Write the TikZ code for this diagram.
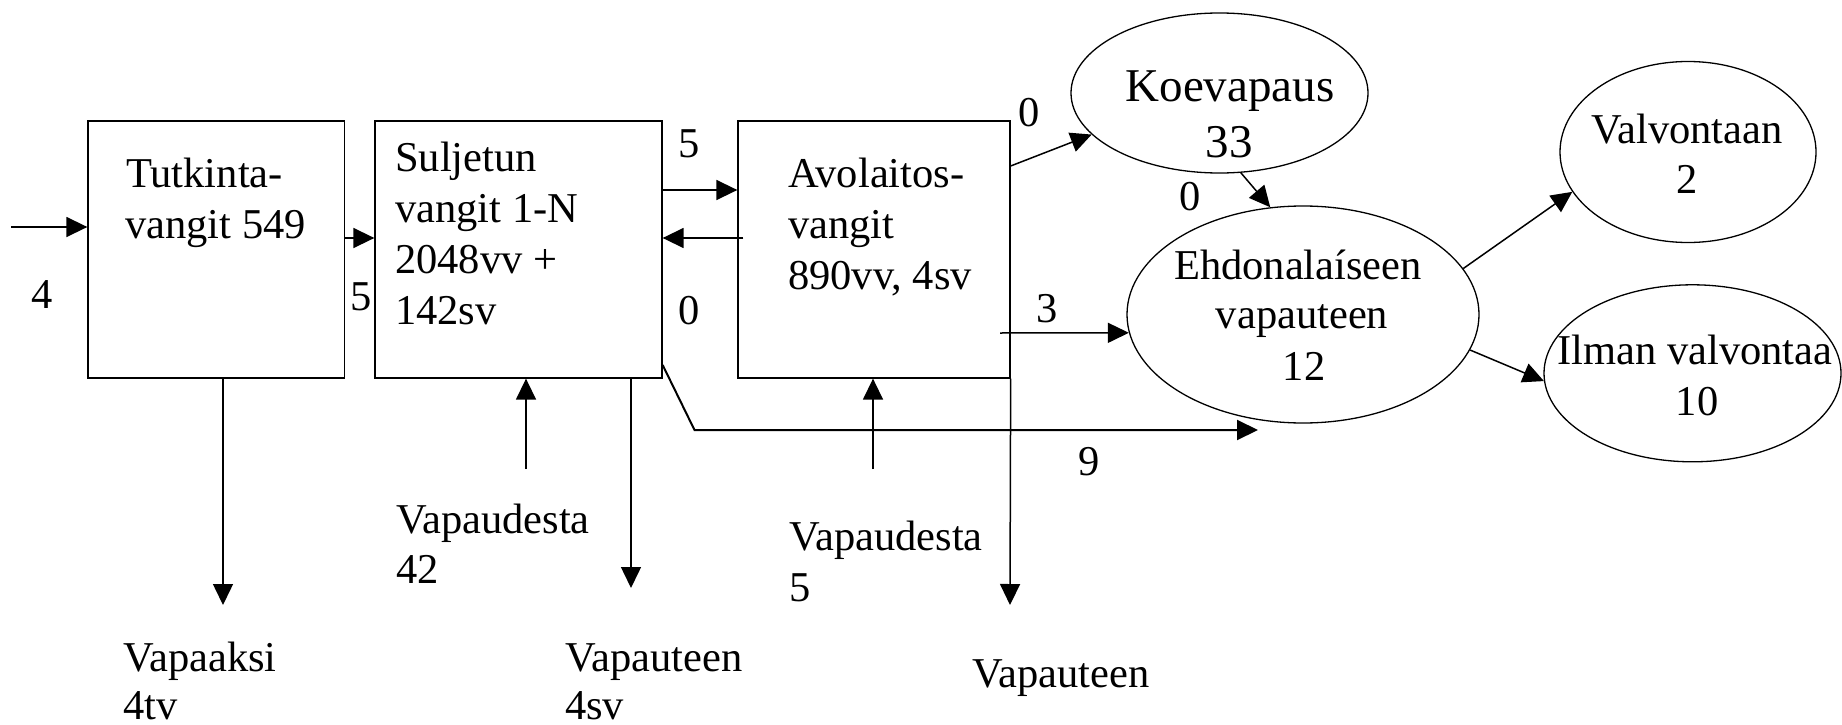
\documentclass[tikz,border=0pt]{standalone}
\usepackage{fontspec}
\setmainfont{Liberation Serif}
\usetikzlibrary{shapes.geometric,arrows.meta,calc}
\newcommand\fs{\fontsize{42.5}{50}\selectfont}
\newcommand\fsk{\fontsize{47}{55}\selectfont}
\tikzset{
  boxnode/.style={draw, line width=1.3pt, inner sep=0pt, minimum height=257pt},
  oval/.style={draw, ellipse, line width=1.3pt, inner sep=0pt},
  txt/.style={font=\fs, inner sep=0pt, anchor=base west},
  ctxt/.style={font=\fs, inner sep=0pt, anchor=base},
  arr/.style={-{Triangle[length=21pt,width=20pt]}, line width=1.5pt},
}
\begin{document}
\begin{tikzpicture}[x=1pt,y=-1pt]
\useasboundingbox (0,0) rectangle (1842,725);
% boxes
\node[boxnode, minimum width=256.6pt] (b1) at (216.3,249.5) {};
\node[boxnode, minimum width=287pt] (b2) at (518.5,249.5) {};
\node[boxnode, minimum width=272pt] (b3) at (874,249.5) {};
% ellipses
\node[oval, minimum width=297pt, minimum height=160pt] (k) at (1219.5,93) {};
\node[oval, minimum width=352pt, minimum height=217pt] (e) at (1303,314.5) {};
\node[oval, minimum width=256pt, minimum height=181pt] (v) at (1688,152) {};
\node[oval, minimum width=297pt, minimum height=177pt] (i) at (1692.5,373.3) {};
% box texts
\node[txt] (t1a) at (126,187) {Tutkinta-};
\node[txt] (t1b) at (125,238) {vangit 549};
\node[txt] (t2a) at (395,171) {Suljetun};
\node[txt] (t2b) at (395,222) {vangit 1-N};
\node[txt] (t2c) at (395,273) {2048vv +};
\node[txt] (t2d) at (395,324) {142sv};
\node[txt] (t3a) at (788,187) {Avolaitos-};
\node[txt] (t3b) at (788,238) {vangit};
\node[txt] (t3c) at (788,289) {890vv, 4sv};
% ellipse texts
\node[ctxt, font=\fsk] (tka) at (1230,102) {Koevapaus};
\node[ctxt, font=\fsk] (tkb) at (1229,157) {33};
\node[ctxt] (tea) at (1298,279) {Ehdonalaíseen};
\node[ctxt] (teb) at (1302,328) {vapauteen};
\node[ctxt] (tec) at (1304,380) {12};
\node[ctxt] (tva) at (1687,143) {Valvontaan};
\node[ctxt] (tvb) at (1687,193) {2};
\node[ctxt] (tia) at (1695,364) {Ilman valvontaa};
\node[ctxt] (tib) at (1697,415) {10};
% numeric labels
\node[txt] (n4) at (31,308) {4};
\node[txt] (n5a) at (350,310) {5};
\node[txt] (n5b) at (678,157) {5};
\node[txt] (n0a) at (678,324) {0};
\node[txt] (n0b) at (1018,126) {0};
\node[txt] (n0c) at (1179,210) {0};
\node[txt] (n3) at (1036,322) {3};
\node[txt] (n9) at (1078,475) {9};
% bottom labels
\node[txt] (l1a) at (396,533) {Vapaudesta};
\node[txt] (l1b) at (396,583) {42};
\node[txt] (l2a) at (789,550) {Vapaudesta};
\node[txt] (l2b) at (789,601) {5};
\node[txt] (l3a) at (123,671) {Vapaaksi};
\node[txt] (l3b) at (123,719) {4tv};
\node[txt] (l4a) at (565,671) {Vapauteen};
\node[txt] (l4b) at (565,719) {4sv};
\node[txt] (l5a) at (972,687) {Vapauteen};
% free ends
\coordinate (cin) at (11,227);
\coordinate (c9) at (1258,430);
\coordinate (c9b) at (694.5,430);
\coordinate (d1) at (223,605);
\coordinate (u2) at (526,469);
\coordinate (d2) at (631,588);
\coordinate (u3) at (873,469);
\coordinate (d3) at (1010,605);
% connectors
\draw[arr] (cin) -- (b1.west |- cin);
\draw[arr] (b1.east |- 0,238) -- (b2.west |- 0,238);
\draw[arr] (b2.east |- 0,190) -- (b3.west |- 0,190);
\draw[arr] ($(b3.west |- 0,238)+(6,0)$) -- (b2.east |- 0,238);
\draw[arr] (b3.east |- 0,166) -- (k.198);
\draw[arr] (k.285) -- (e.107);
\draw[arr] ($(b3.east |- 0,333)+(-10.5,0)$) -- (e.186);
\draw[arr, line width=2pt] (b2.east |- 0,365) -- (c9b) -- (c9);
\draw[arr] (e.16) -- (v.199);
\draw[arr] (e.348) -- (i.183);
\draw[arr] (b1.south -| d1) -- (d1);
\draw[arr] (u2) -- (b2.south -| u2);
\draw[arr] (b2.south -| d2) -- (d2);
\draw[arr] (u3) -- (b3.south -| u3);
\draw[arr] (b3.south east) -- (d3);
\end{tikzpicture}
\end{document}
